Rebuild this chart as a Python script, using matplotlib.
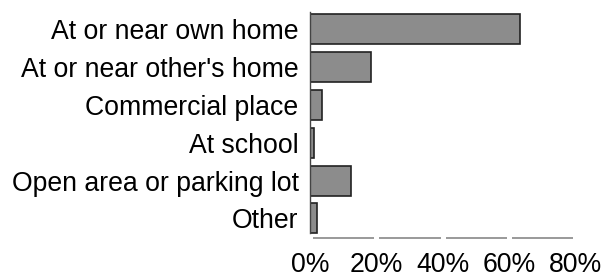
import numpy as np
import matplotlib.pyplot as plt

# Data
categories = ["At or near own home", "At or near other's home", "Commercial place",
              "At school", "Open area or parking lot", "Other"]
shares = [63.0, 18.4, 3.5, 1.1, 12.1, 2.0]
ticks = [0, 20, 40, 60, 80]
tick_labels = ["0%", "20%", "40%", "60%", "80%"]

plt.rcParams['font.family'] = ['Liberation Sans', 'DejaVu Sans']

fig = plt.figure(figsize=(6.05, 2.78), dpi=100)
ax = fig.add_axes([0.513, 0.145, 0.439, 0.812])

y = np.arange(len(categories))
ax.barh(y, shares, height=0.79, color="#8c8c8c", edgecolor="#222222", linewidth=1.2)

ax.set_xlim(0, 80)
ax.set_ylim(5.51, -0.46)
ax.set_yticks(y)
ax.set_yticklabels(categories, fontsize=19.2)
ax.set_xticks(ticks)
ax.set_xticklabels(tick_labels, fontsize=19.2)
ax.tick_params(axis="y", length=0, pad=8.5)
ax.tick_params(axis="x", length=0, pad=10)

for s in ["top", "right", "bottom"]:
    ax.spines[s].set_visible(False)
ax.spines["left"].set_color("#444444")
ax.spines["left"].set_linewidth(1.0)
ax.spines["left"].set_bounds(5.38, -0.46)

# broken x-axis line: one segment between each pair of ticks
gap = 0.8
for a, b in zip(ticks[:-1], ticks[1:]):
    ax.plot([a + gap, b - gap], [0.0, 0.0], transform=ax.get_xaxis_transform(),
            color="#888888", linewidth=1.2, clip_on=False, solid_capstyle="butt")

fig.savefig("out.png", dpi=100)
